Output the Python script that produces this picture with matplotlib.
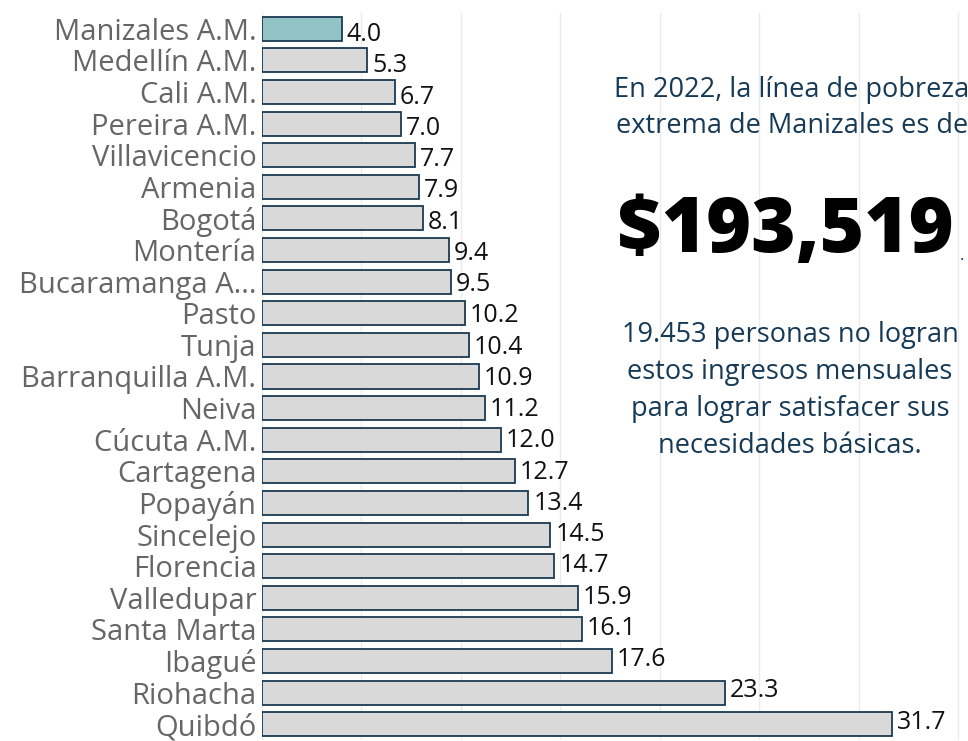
import matplotlib
matplotlib.use("Agg")
import matplotlib.pyplot as plt

categories = ["Manizales A.M.", "Medellín A.M.", "Cali A.M.", "Pereira A.M.", "Villavicencio",
              "Armenia", "Bogotá", "Montería", "Bucaramanga A...", "Pasto", "Tunja",
              "Barranquilla A.M.", "Neiva", "Cúcuta A.M.", "Cartagena", "Popayán",
              "Sincelejo", "Florencia", "Valledupar", "Santa Marta", "Ibagué", "Riohacha", "Quibdó"]
values = [4.0, 5.3, 6.7, 7.0, 7.7, 7.9, 8.1, 9.4, 9.5, 10.2, 10.4, 10.9, 11.2, 12.0, 12.7,
          13.4, 14.5, 14.7, 15.9, 16.1, 17.6, 23.3, 31.7]
highlight = "Manizales A.M."

plt.rcParams['font.family'] = ['Open Sans', 'DejaVu Sans']

fig = plt.figure(figsize=(9.68, 7.41), dpi=100)
ax = fig.add_axes([262/968, 1-740/741, 1-262/968, (740-13)/741])

colors = ["#93c4c5" if c == highlight else "#d9d9d9" for c in categories]
ypos = list(range(len(categories)))
bars = ax.barh(ypos, values, height=0.76, color=colors, edgecolor="#1b3a52", linewidth=1.3)
ax.set_ylim(len(categories)-0.5, -0.5)
ax.set_xlim(0, 35.5)
ax.set_yticks(ypos)
ax.set_yticklabels(categories, fontsize=21, color="#666666")
ax.tick_params(axis='y', length=0, pad=4)
ax.set_xticks([0, 5, 10, 15, 20, 25, 30, 35])
ax.tick_params(axis='x', length=0, labelbottom=False)
ax.grid(axis='x', color="#ebebeb", linewidth=1)
ax.set_axisbelow(True)
for s in ax.spines.values():
    s.set_visible(False)

n = len(values)
for y, v in zip(ypos, values):
    dy_px = 4.5 - 8.0 * y / (n - 1)
    ax.annotate(f"{v:.1f}", (v, y), xytext=(3.5, -dy_px * 0.72 - 1), textcoords="offset points",
                va="center", ha="left", fontsize=18, color="#111111")

navy = "#163a56"
fig.text(792/968, 1-90/741, "En 2022, la línea de pobreza", ha="center", va="center", fontsize=19.5, color=navy)
fig.text(792/968, 1-126/741, "extrema de Manizales es de", ha="center", va="center", fontsize=19.5, color=navy)
fig.text(785/968, 1-232/741, "$193,519", ha="center", va="center", fontsize=55, fontweight="heavy", color="black")
fig.text(962/968, 1-256/741, ".", ha="center", va="center", fontsize=12, color=navy)
lines = ["19.453 personas no logran", "estos ingresos mensuales",
         "para lograr satisfacer sus", "necesidades básicas."]
for i, t in enumerate(lines):
    fig.text(790/968, 1-(335+37*i)/741, t, ha="center", va="center", fontsize=19.5, color=navy)

fig.savefig("out.png", dpi=100)
